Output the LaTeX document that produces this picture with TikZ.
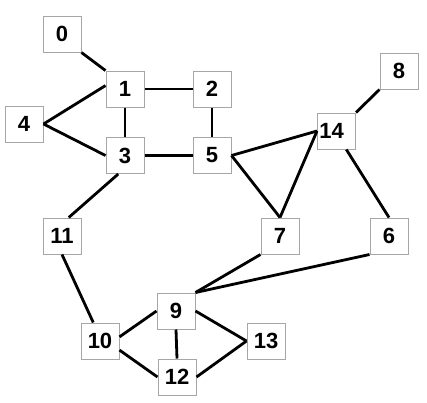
\documentclass[tikz,border=0pt]{standalone}
\usepackage{fontspec}
\setmainfont{Liberation Sans}
\usepackage{tikz}
\usetikzlibrary{positioning,calc}

\begin{document}
\begin{tikzpicture}[
    x=1pt, y=-1pt,
    vbox/.style={draw=gray!70, line width=1pt, fill=white, minimum width=38pt, minimum height=36pt, inner sep=0pt, font=\fontsize{22}{22}\selectfont\bfseries},
    edge/.style={line width=2.8pt, black}
]
\useasboundingbox (0,0) rectangle (427,402);

\node [vbox] (n0) at (62,34) {0};
\node [vbox] (n1) at (125,89) {1};
\node [vbox] (n2) at (212,89) {2};
\node [vbox] (n4) at (24,124) {4};
\node [vbox] (n3) at (125,155.5) {3};
\node [vbox] (n5) at (212,155.5) {5};
\node [vbox] (n14) at (336.5,131) {\kern-5pt 14\kern5pt};
\node [vbox] (n8) at (399,71) {8};
\node [vbox] (n11) at (62,236) {11};
\node [vbox] (n7) at (280,236) {7};
\node [vbox] (n6) at (389,236) {6};
\node [vbox] (n9) at (176,311) {9};
\node [vbox] (n10) at (100,341) {10};
\node [vbox] (n13) at (266,341) {13};
\node [vbox] (n12) at (177,377) {12};

\draw [edge] (n0.south east) -- (n1.north west);
\draw [edge] (n4.east) -- (n1.170);
\draw [edge] (n4.east) -- (n3.west);
\draw [edge] (n1.east) -- (n2.west);
\draw [edge] (n1.south) -- (n3.north);
\draw [edge] (n2.south) -- (n5.north);
\draw [edge] (n3.east) -- (n5.west);
\draw [edge] (n3.250) -- (n11.70);
\draw [edge] (n5.east) -- (n14.west);
\draw [edge] (n5.east) -- (n7.north);
\draw [edge] (n7.north) -- (n14.west);
\draw [edge] (n14.north east) -- (n8.south west);
\draw [edge] (n14.-62) -- (n6.north);
\draw [edge] (n11.south) -- (n10.110);
\draw [edge] (n7.south west) -- (n9.north east);
\draw [edge] (n6.south west) -- (n9.north east);
\draw [edge] (n10.12) -- (n9.west);
\draw [edge] (n10.-25) -- (n12.west);
\draw [edge] (n9.south) -- (n12.north);
\draw [edge] (n9.east) -- (n13.west);
\draw [edge] (n12.east) -- (n13.west);

\end{tikzpicture}
\end{document}
